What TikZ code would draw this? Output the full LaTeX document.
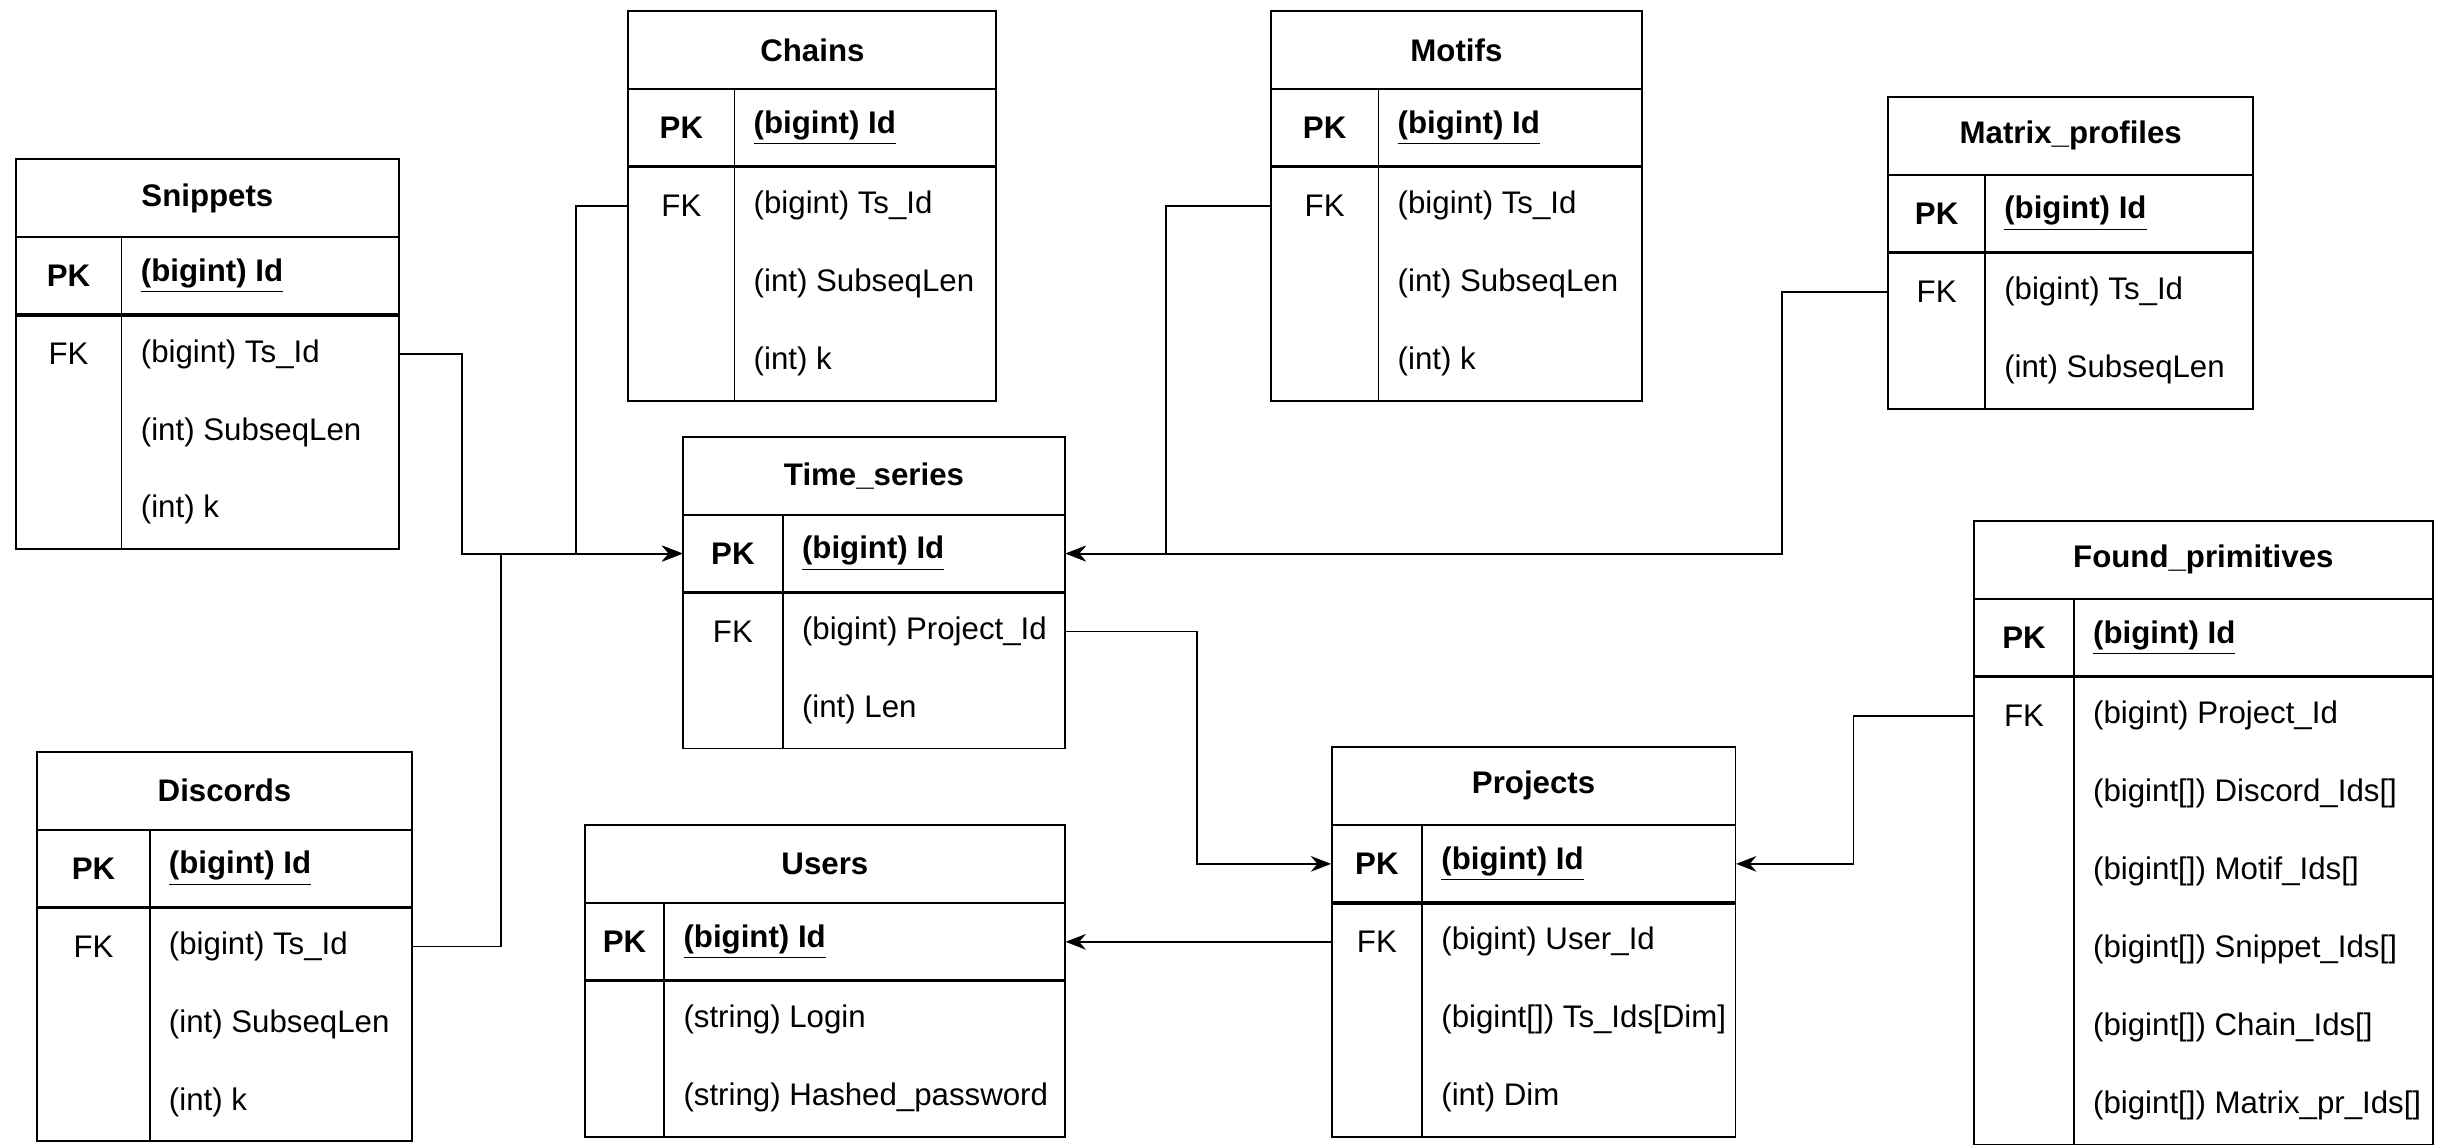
\documentclass[tikz,border=0pt]{standalone}
\usepackage{fontspec}
\setmainfont{Liberation Sans}
\usetikzlibrary{arrows.meta,positioning}
\newcommand{\erfont}{\fontsize{11.4}{13}\selectfont}
\tikzset{
  tbl/.style={line width=0.7pt},
  pkline/.style={line width=1.2pt},
  colline/.style={line width=0.6pt},
  rowbox/.style={inner sep=0pt, minimum height=1cm},
  titletxt/.style={font=\erfont\bfseries, inner sep=0pt},
  keytxt/.style={font=\erfont, inner sep=0pt},
  pktxt/.style={font=\erfont\bfseries, inner sep=0pt},
  fieldtxt/.style={font=\erfont, anchor=west, inner sep=0pt},
  fk/.style={line width=0.7pt, -{Stealth[length=0.26cm,width=0.2cm]}},
}
% #1 name, #2 left, #3 top, #4 right, #5 split, #6 title, #7 pk field, #8 number of rows, #9 rows
\newcommand{\dbtable}[9]{%
  \pgfmathsetmacro{\tbot}{#3+100+50*#8}
  \pgfmathsetmacro{\tw}{(#4-#2)*0.02}
  % frame, title and key separators
  \draw[tbl] (#2,#3) rectangle (#4,\tbot);
  \draw[tbl] (#2,#3+50) -- (#4,#3+50);
  \draw[pkline] (#2,#3+100) -- (#4,#3+100);
  \draw[colline] (#5,#3+50) -- (#5,\tbot);
  \node[titletxt] (#1) at ({(#2+#4)/2},#3+25) {#6};
  % primary key row
  \node[rowbox, minimum width=\tw cm] (#1-0) at ({(#2+#4)/2},#3+75) {};
  \node[pktxt] (#1-k0) at ({(#2+#5)/2},#3+75) {PK};
  \node[fieldtxt] (#1-f0) at ({#5+12},#3+75) {\textbf{\underline{#7}}};
  % other rows
  \foreach \k/\f [count=\i] in {#9} {
    \node[rowbox, minimum width=\tw cm] (#1-\i) at ({(#2+#4)/2},{#3+75+50*\i}) {};
    \node[keytxt] (#1-k\i) at ({(#2+#5)/2},{#3+75+50*\i}) {\k};
    \node[fieldtxt] (#1-f\i) at ({#5+12},{#3+75+50*\i}) {\f};
  }
}

\begin{document}
\begin{tikzpicture}[x=0.02cm,y=-0.02cm]
  \useasboundingbox (0,0) rectangle (1568,734);
  % tables
  \dbtable{snip}{10}{102}{256}{78}{Snippets}{(bigint) Id}{3}
    {FK/{(bigint) Ts\_Id}, /{(int) SubseqLen}, /{(int) k}}
  \dbtable{chain}{403}{7}{639}{471}{Chains}{(bigint) Id}{3}
    {FK/{(bigint) Ts\_Id}, /{(int) SubseqLen}, /{(int) k}}
  \dbtable{motif}{815}{7}{1053}{884}{Motifs}{(bigint) Id}{3}
    {FK/{(bigint) Ts\_Id}, /{(int) SubseqLen}, /{(int) k}}
  \dbtable{mp}{1211}{62}{1445}{1273}{Matrix\_profiles}{(bigint) Id}{2}
    {FK/{(bigint) Ts\_Id}, /{(int) SubseqLen}}
  \dbtable{ts}{438}{280}{683}{502}{Time\_series}{(bigint) Id}{2}
    {FK/{(bigint) Project\_Id}, /{(int) Len}}
  \dbtable{disc}{24}{482}{264}{96}{Discords}{(bigint) Id}{3}
    {FK/{(bigint) Ts\_Id}, /{(int) SubseqLen}, /{(int) k}}
  \dbtable{users}{375}{529}{683}{426}{Users}{(bigint) Id}{2}
    {/{(string) Login}, /{(string) Hashed\_password}}
  \dbtable{proj}{854}{479}{1113}{912}{Projects}{(bigint) Id}{3}
    {FK/{(bigint) User\_Id}, /{(bigint[]) Ts\_Ids[Dim]}, /{(int) Dim}}
  \dbtable{fp}{1266}{334}{1560}{1330}{Found\_primitives}{(bigint) Id}{6}
    {FK/{(bigint) Project\_Id}, /{(bigint[]) Discord\_Ids[]}, /{(bigint[]) Motif\_Ids[]},
     /{(bigint[]) Snippet\_Ids[]}, /{(bigint[]) Chain\_Ids[]}, /{(bigint[]) Matrix\_pr\_Ids[]}}
  % foreign keys to Time_series
  \draw[fk] (snip-1.east) -- ++(40,0) |- (ts-0.west);
  \draw[fk] (chain-1.west) -- ++(-33,0) |- (ts-0.west);
  \draw[fk] (disc-1.east) -- ++(57,0) |- (ts-0.west);
  \draw[fk] (motif-1.west) -- ++(-67,0) |- (ts-0.east);
  \draw[fk] (mp-1.west) -- ++(-68,0) |- (ts-0.east);
  % foreign keys to Projects and Users
  \draw[fk] (ts-1.east) -- ++(84,0) |- (proj-0.west);
  \draw[fk] (fp-1.west) -- ++(-77,0) |- (proj-0.east);
  \draw[fk] (proj-1.west) -- (users-0.east);
\end{tikzpicture}
\end{document}
